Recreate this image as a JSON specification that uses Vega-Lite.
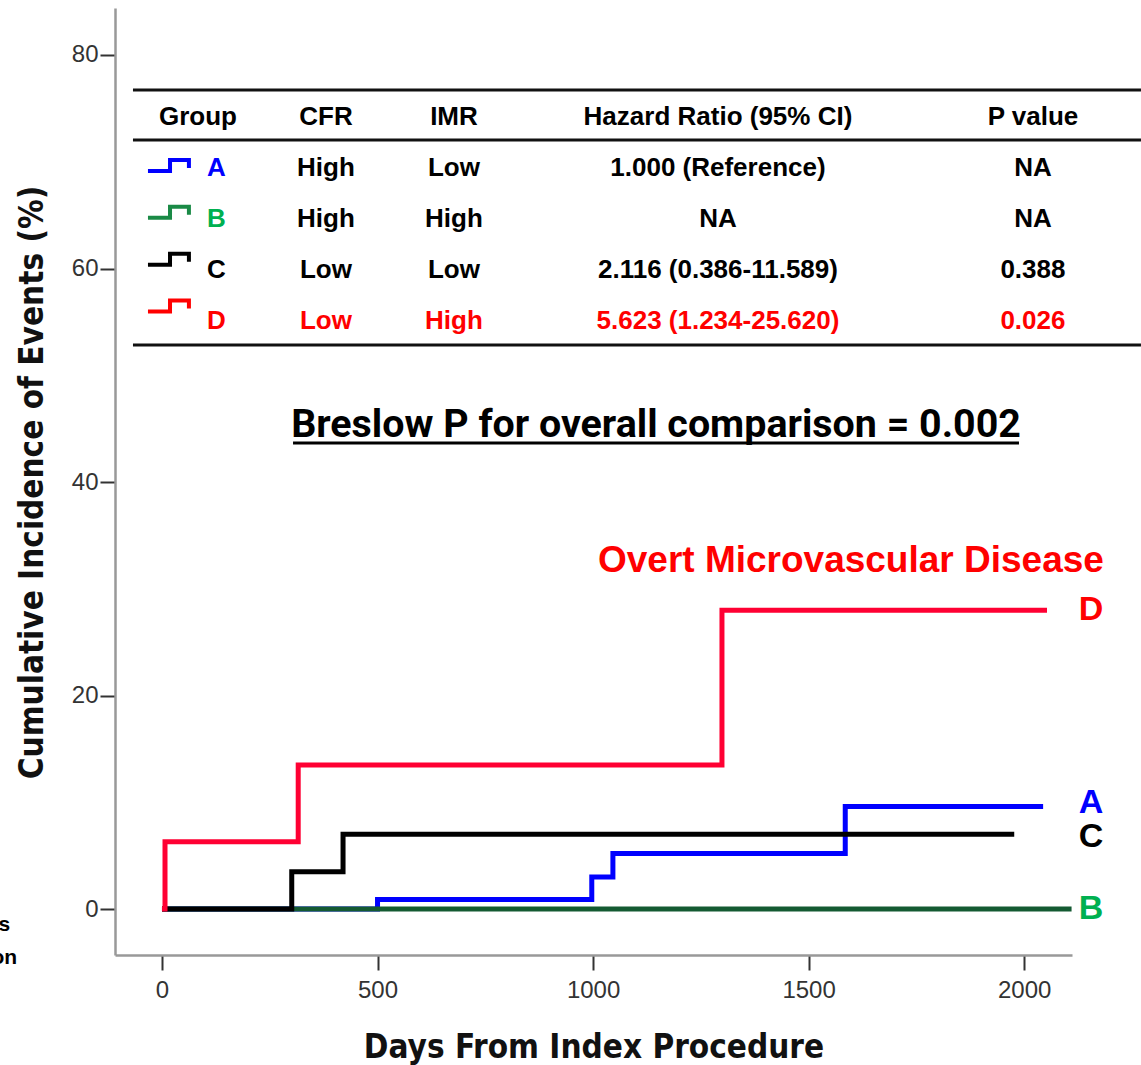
{
  "$schema": "https://vega.github.io/schema/vega-lite/v6.json",
  "width": 957,
  "height": 947,
  "autosize": {"type": "none"},
  "padding": {"left": 115, "top": 8, "right": 69, "bottom": 110},
  "background": "white",
  "config": {"view": {"stroke": null}, "font": "Liberation Sans"},
  "datasets": {
    "curves": [
      {"group": "A", "day": 0, "pct": 0},
      {"group": "A", "day": 500, "pct": 0.9},
      {"group": "A", "day": 997, "pct": 3.0},
      {"group": "A", "day": 1046, "pct": 5.2},
      {"group": "A", "day": 1585, "pct": 9.6},
      {"group": "A", "day": 2044, "pct": 9.6},
      {"group": "B", "day": 0, "pct": 0},
      {"group": "B", "day": 2110, "pct": 0},
      {"group": "C", "day": 0, "pct": 0},
      {"group": "C", "day": 301, "pct": 3.5},
      {"group": "C", "day": 420, "pct": 7.0},
      {"group": "C", "day": 1977, "pct": 7.0},
      {"group": "D", "day": 0, "pct": 0},
      {"group": "D", "day": 7, "pct": 6.3},
      {"group": "D", "day": 316, "pct": 13.5},
      {"group": "D", "day": 1299, "pct": 28.0},
      {"group": "D", "day": 2053, "pct": 28.0}
    ],
    "table": [
      {"group": "Header", "letter": "Group", "cfr": "CFR", "imr": "IMR", "hr": "Hazard Ratio (95% CI)", "p": "P value"},
      {"group": "A", "letter": "A", "cfr": "High", "imr": "Low", "hr": "1.000 (Reference)", "p": "NA"},
      {"group": "B", "letter": "B", "cfr": "High", "imr": "High", "hr": "NA", "p": "NA"},
      {"group": "C", "letter": "C", "cfr": "Low", "imr": "Low", "hr": "2.116 (0.386-11.589)", "p": "0.388"},
      {"group": "D", "letter": "D", "cfr": "Low", "imr": "High", "hr": "5.623 (1.234-25.620)", "p": "0.026"}
    ]
  },
  "layer": [
    {
      "layer": [
        {
          "data": {"name": "curves"},
          "mark": {"type": "line", "interpolate": "step-after", "strokeWidth": 5, "strokeCap": "butt", "strokeJoin": "miter"},
          "encoding": {
            "x": {
              "field": "day", "type": "quantitative",
              "scale": {"domain": [-109, 2111], "nice": false, "zero": false},
              "axis": {
                "values": [0, 500, 1000, 1500, 2000], "format": "d", "grid": false,
                "domainColor": "#999999", "domainWidth": 2.5,
                "tickColor": "#333333", "tickWidth": 2, "tickSize": 15,
                "labelFont": "Liberation Sans", "labelFontSize": 24, "labelColor": "#333333", "labelPadding": 8,
                "title": "Days From Index Procedure", "titleFont": "DejaVu Sans Condensed", "titleFontSize": 33,
                "titleFontWeight": "bold", "titleColor": "#111111", "titleY": 102, "titleBaseline": "alphabetic"
              }
            },
            "y": {
              "field": "pct", "type": "quantitative",
              "scale": {"domain": [-4.3, 84.4], "nice": false, "zero": false},
              "axis": {
                "values": [0, 20, 40, 60, 80], "format": "d", "grid": false,
                "domainColor": "#999999", "domainWidth": 2.5,
                "tickColor": "#333333", "tickWidth": 2, "tickSize": 15,
                "labelFont": "Liberation Sans", "labelFontSize": 24, "labelColor": "#333333", "labelPadding": 2,
                "title": "Cumulative Incidence of Events (%)", "titleFont": "DejaVu Sans Condensed", "titleFontSize": 33,
                "titleFontWeight": "bold", "titleColor": "#111111", "titleAngle": -90, "titleX": -73, "titleY": 474,
                "titleAlign": "center", "titleBaseline": "alphabetic"
              }
            },
            "stroke": {
              "field": "group", "type": "nominal",
              "scale": {"domain": ["A", "B", "C", "D"], "range": ["#0000FF", "#145A32", "#000000", "#FF0033"]},
              "legend": null
            }
          }
        },
        {
          "data": {"name": "curves"},
          "transform": [
            {"aggregate": [{"op": "max", "field": "pct", "as": "pct"}], "groupby": ["group"]},
            {"filter": "datum.group === 'B' || datum.group === 'D'"}
          ],
          "mark": {"type": "text", "fontSize": 34, "fontWeight": "bold", "align": "center", "baseline": "middle", "font": "Liberation Sans"},
          "encoding": {
            "x": {"datum": 2155, "type": "quantitative"},
            "y": {"field": "pct", "type": "quantitative"},
            "text": {"field": "group"},
            "fill": {
              "field": "group", "type": "nominal",
              "scale": {"domain": ["A", "B", "C", "D"], "range": ["#0000FF", "#00B050", "#000000", "#FF0000"]},
              "legend": null
            }
          }
        },
        {
          "data": {"name": "curves"},
          "transform": [
            {"aggregate": [{"op": "max", "field": "pct", "as": "pct"}], "groupby": ["group"]},
            {"filter": "datum.group === 'A'"}
          ],
          "mark": {"type": "text", "fontSize": 34, "fontWeight": "bold", "align": "center", "baseline": "middle", "font": "Liberation Sans", "dy": -4},
          "encoding": {
            "x": {"datum": 2155, "type": "quantitative"},
            "y": {"field": "pct", "type": "quantitative"},
            "text": {"field": "group"},
            "fill": {"field": "group", "type": "nominal", "legend": null}
          }
        },
        {
          "data": {"name": "curves"},
          "transform": [
            {"aggregate": [{"op": "max", "field": "pct", "as": "pct"}], "groupby": ["group"]},
            {"filter": "datum.group === 'C'"}
          ],
          "mark": {"type": "text", "fontSize": 34, "fontWeight": "bold", "align": "center", "baseline": "middle", "font": "Liberation Sans", "dy": 3},
          "encoding": {
            "x": {"datum": 2155, "type": "quantitative"},
            "y": {"field": "pct", "type": "quantitative"},
            "text": {"field": "group"},
            "fill": {"field": "group", "type": "nominal", "legend": null}
          }
        },
        {
          "data": {"values": [{"label": "Overt Microvascular Disease"}]},
          "mark": {"type": "text", "fontSize": 37, "fontWeight": "bold", "align": "right", "baseline": "middle", "font": "Liberation Sans", "fill": "#FF0000"},
          "encoding": {
            "x": {"datum": 2185, "type": "quantitative"},
            "y": {"datum": 32.6, "type": "quantitative"},
            "text": {"field": "label"}
          }
        },
        {
          "data": {"values": [{"label": "Breslow P for overall comparison = 0.002"}]},
          "mark": {"type": "text", "fontSize": 39.4, "fontWeight": "bold", "align": "center", "baseline": "middle", "font": "Roboto", "fill": "#000000"},
          "encoding": {
            "x": {"datum": 1146, "type": "quantitative"},
            "y": {"datum": 45.34, "type": "quantitative"},
            "text": {"field": "label"}
          }
        },
        {
          "data": {"values": [{}]},
          "mark": {"type": "rule", "strokeWidth": 3, "color": "#000000"},
          "encoding": {
            "x": {"datum": 304, "type": "quantitative"},
            "x2": {"datum": 1988},
            "y": {"datum": 43.65, "type": "quantitative"}
          }
        },
        {
          "data": {"values": [{}]},
          "mark": {"type": "rule", "strokeWidth": 3, "color": "#111111"},
          "encoding": {
            "x": {"datum": -67.3, "type": "quantitative"},
            "x2": {"datum": 2271},
            "y": {"datum": 76.71, "type": "quantitative"}
          }
        },
        {
          "data": {"values": [{}]},
          "mark": {"type": "rule", "strokeWidth": 3, "color": "#111111"},
          "encoding": {
            "x": {"datum": -67.3, "type": "quantitative"},
            "x2": {"datum": 2271},
            "y": {"datum": 72.03, "type": "quantitative"}
          }
        },
        {
          "data": {"values": [{}]},
          "mark": {"type": "rule", "strokeWidth": 3, "color": "#111111"},
          "encoding": {
            "x": {"datum": -67.3, "type": "quantitative"},
            "x2": {"datum": 2271},
            "y": {"datum": 52.83, "type": "quantitative"}
          }
        },
        {
          "data": {"values": [{"label": "s"}]},
          "mark": {"type": "text", "fontSize": 21, "fontWeight": "bold", "align": "right", "baseline": "middle", "font": "Liberation Sans", "fill": "#000000"},
          "encoding": {
            "x": {"datum": -352, "type": "quantitative"},
            "y": {"datum": -1.5, "type": "quantitative"},
            "text": {"field": "label"}
          }
        },
        {
          "data": {"values": [{"label": "on"}]},
          "mark": {"type": "text", "fontSize": 21, "fontWeight": "bold", "align": "right", "baseline": "middle", "font": "Liberation Sans", "fill": "#000000"},
          "encoding": {
            "x": {"datum": -336, "type": "quantitative"},
            "y": {"datum": -4.6, "type": "quantitative"},
            "text": {"field": "label"}
          }
        }
      ]
    },
    {
      "data": {"name": "table"},
      "encoding": {
        "y": {
          "field": "group", "type": "nominal",
          "scale": {"type": "point", "domain": ["Header", "A", "B", "C", "D"], "range": [109, 313], "padding": 0},
          "axis": null
        }
      },
      "layer": [
        {
          "transform": [{"filter": "datum.group !== 'Header'"}],
          "mark": {"type": "text", "fontSize": 26, "fontWeight": "bold", "align": "center", "baseline": "middle", "font": "Liberation Sans"},
          "encoding": {
            "x": {"datum": 126, "type": "quantitative"},
            "text": {"field": "letter"},
            "fill": {
              "field": "group", "type": "nominal",
              "scale": {"domain": ["A", "B", "C", "D"], "range": ["#0000FF", "#00B050", "#000000", "#FF0000"]},
              "legend": null
            }
          }
        },
        {
          "transform": [{"filter": "datum.group === 'Header'"}],
          "mark": {"type": "text", "fontSize": 26, "fontWeight": "bold", "align": "center", "baseline": "middle", "font": "Liberation Sans", "fill": "#000000"},
          "encoding": {
            "x": {"datum": 83.5, "type": "quantitative"},
            "text": {"field": "letter"}
          }
        },
        {
          "mark": {"type": "text", "fontSize": 26, "fontWeight": "bold", "align": "center", "baseline": "middle", "font": "Liberation Sans"},
          "encoding": {
            "x": {"datum": 380.4, "type": "quantitative"},
            "text": {"field": "cfr"},
            "fill": {"condition": {"test": "datum.group === 'D'", "value": "#FF0000"}, "value": "#000000"}
          }
        },
        {
          "mark": {"type": "text", "fontSize": 26, "fontWeight": "bold", "align": "center", "baseline": "middle", "font": "Liberation Sans"},
          "encoding": {
            "x": {"datum": 677.3, "type": "quantitative"},
            "text": {"field": "imr"},
            "fill": {"condition": {"test": "datum.group === 'D'", "value": "#FF0000"}, "value": "#000000"}
          }
        },
        {
          "mark": {"type": "text", "fontSize": 26, "fontWeight": "bold", "align": "center", "baseline": "middle", "font": "Liberation Sans"},
          "encoding": {
            "x": {"datum": 1289.7, "type": "quantitative"},
            "text": {"field": "hr"},
            "fill": {"condition": {"test": "datum.group === 'D'", "value": "#FF0000"}, "value": "#000000"}
          }
        },
        {
          "mark": {"type": "text", "fontSize": 26, "fontWeight": "bold", "align": "center", "baseline": "middle", "font": "Liberation Sans"},
          "encoding": {
            "x": {"datum": 2020.4, "type": "quantitative"},
            "text": {"field": "p"},
            "fill": {"condition": {"test": "datum.group === 'D'", "value": "#FF0000"}, "value": "#000000"}
          }
        }
      ]
    },
    {
      "data": {"name": "table"},
      "transform": [{"filter": "datum.group !== 'Header'"}],
      "mark": {
        "type": "point",
        "shape": "M-1,0.26L0.05,0.26L0.05,-0.26L0.95,-0.26L0.95,0.12",
        "filled": false, "size": 1764, "strokeWidth": 4, "opacity": 1, "strokeCap": "butt", "strokeJoin": "miter"
      },
      "encoding": {
        "x": {"datum": 16.2, "type": "quantitative"},
        "y": {
          "field": "group", "type": "nominal",
          "scale": {"type": "point", "domain": ["A", "B", "C", "D"], "range": [157.5, 298], "padding": 0},
          "axis": null
        },
        "stroke": {
          "field": "group", "type": "nominal",
          "scale": {"domain": ["A", "B", "C", "D"], "range": ["#0000FF", "#1A8A46", "#000000", "#FF0000"]},
          "legend": null
        }
      }
    }
  ],
  "resolve": {"scale": {"y": "independent", "fill": "independent", "stroke": "independent"}}
}
